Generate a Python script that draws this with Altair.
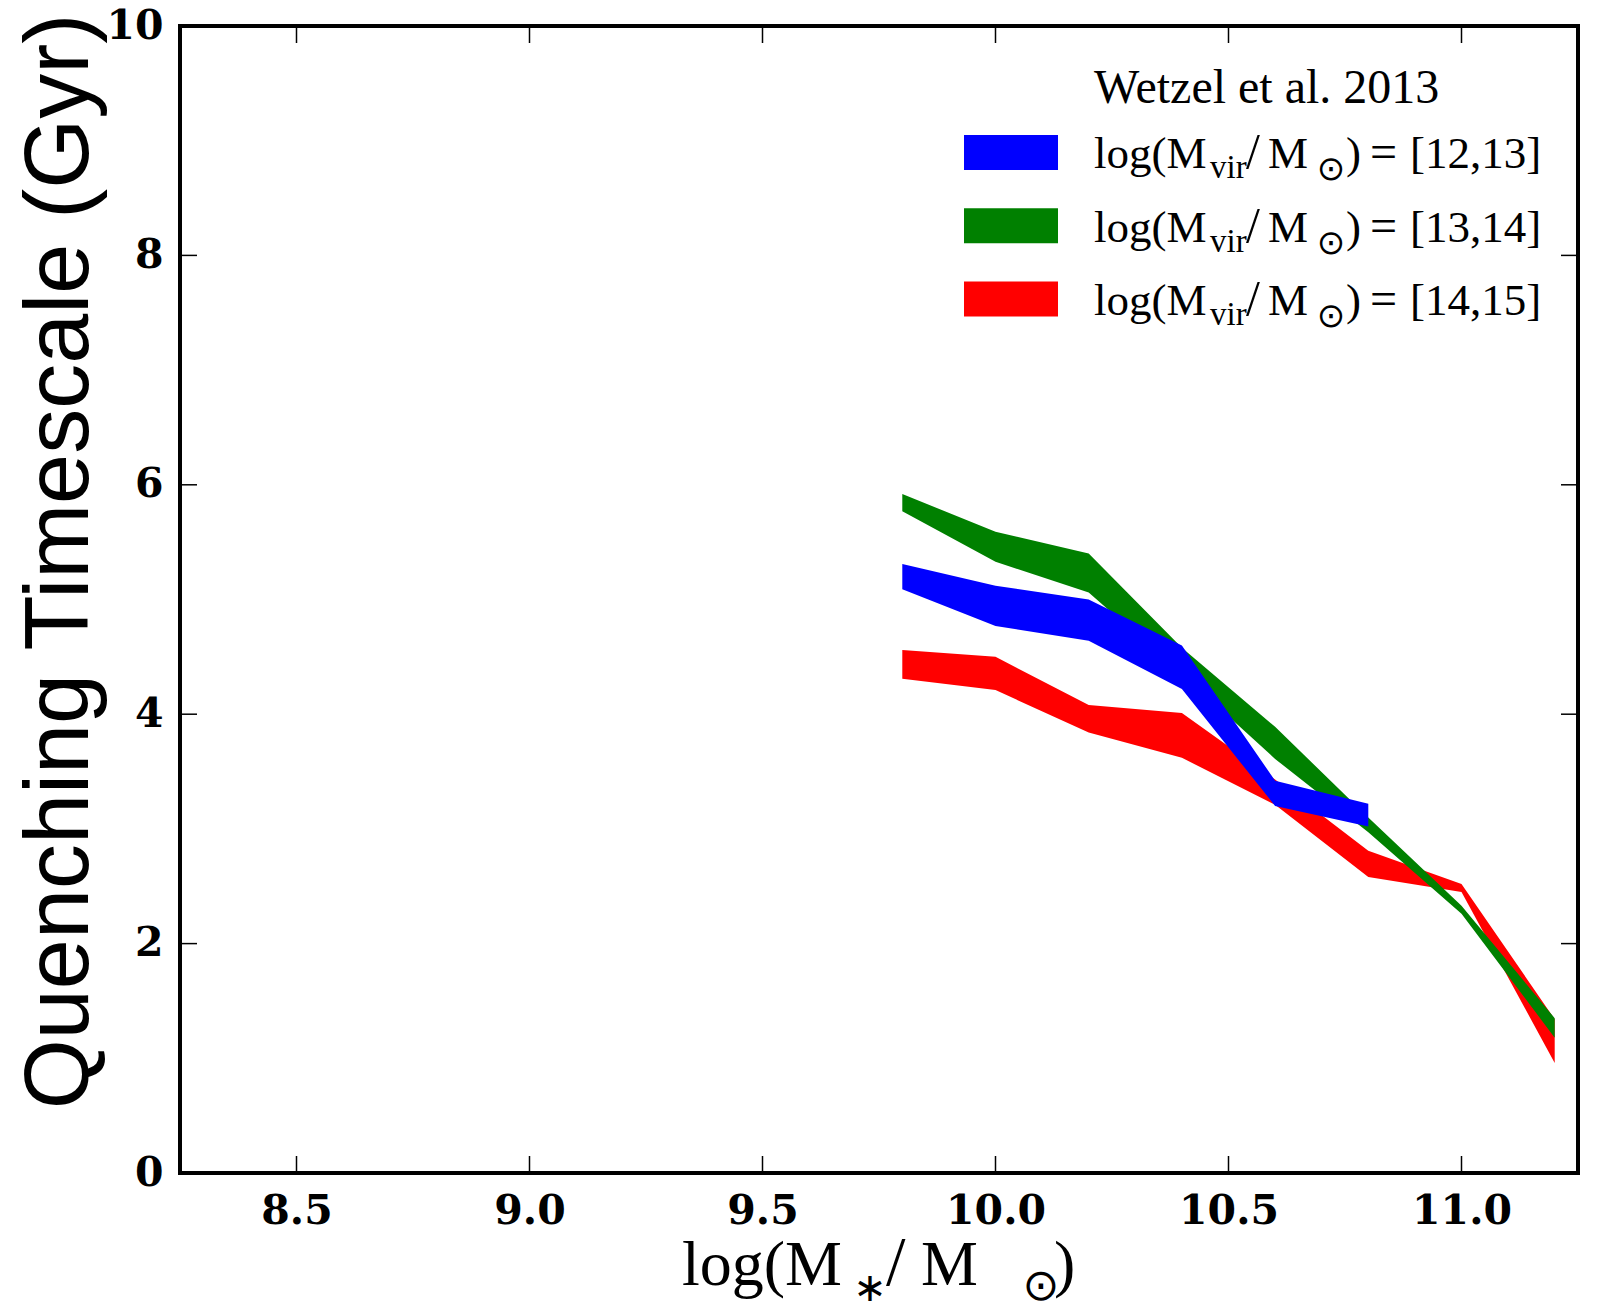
import altair as alt
import pandas as pd

# ---- data ----
xs_blue = [9.8, 10.0, 10.2, 10.4, 10.6, 10.8]
blue_lo = [5.09, 4.77, 4.64, 4.22, 3.20, 3.02]
blue_hi = [5.31, 5.12, 5.00, 4.60, 3.42, 3.22]

xs_green = [9.8, 10.0, 10.2, 10.4, 10.6, 10.8, 11.0, 11.2]
green_lo = [5.77, 5.33, 5.06, 4.35, 3.61, 2.97, 2.26, 1.18]
green_hi = [5.92, 5.59, 5.40, 4.58, 3.89, 3.10, 2.33, 1.35]

xs_red = [9.8, 10.0, 10.2, 10.4, 10.6, 10.8, 11.0, 11.2]
red_lo = [4.31, 4.21, 3.84, 3.62, 3.21, 2.58, 2.45, 0.96]
red_hi = [4.56, 4.50, 4.08, 4.01, 3.43, 2.81, 2.52, 1.34]

x_ticks = [8.5, 9.0, 9.5, 10.0, 10.5, 11.0]
y_ticks = [0, 2, 4, 6, 8, 10]

legend_title = "Wetzel et al. 2013"
legend_ranges = ["[12,13]", "[13,14]", "[14,15]"]
legend_colors = ["#0000ff", "#008000", "#ff0000"]

W, H = 1398, 1147
xscale = alt.Scale(domain=[8.25, 11.25], nice=False, zero=False)
yscale = alt.Scale(domain=[0, 10], nice=False, zero=True)

SERIF = "Liberation Serif"

XAXIS = alt.Axis(values=x_ticks, format=".1f", title=None, grid=False,
                 domain=False, ticks=False, tickSize=0, labelPadding=18,
                 labelFont="DejaVu Serif", labelFontWeight="bold",
                 labelFontSize=41, labelColor="black", labelFlush=False)
YAXIS = alt.Axis(values=y_ticks, format="d", title=None, grid=False,
                 domain=False, ticks=False, tickSize=0, labelPadding=17,
                 labelFont="DejaVu Serif", labelFontWeight="bold",
                 labelFontSize=41, labelColor="black", labelFlush=False)


def band(xs, lo, hi, color):
    df = pd.DataFrame({"x": xs, "lo": lo, "hi": hi})
    return alt.Chart(df).mark_area(color=color, opacity=1, interpolate="linear").encode(
        x=alt.X("x:Q", scale=xscale, axis=XAXIS),
        y=alt.Y("hi:Q", scale=yscale, axis=YAXIS),
        y2="lo:Q",
    )


def txt(s, x, y, size, font=SERIF, align="left", baseline="alphabetic",
        angle=0, weight="normal"):
    return alt.Chart(pd.DataFrame({"t": [s]})).mark_text(
        align=align, baseline=baseline, font=font, fontSize=size,
        angle=angle, fontWeight=weight, color="black"
    ).encode(x=alt.value(x), y=alt.value(y), text="t:N")


TL = 17
xt = pd.DataFrame({"v": x_ticks})
yt = pd.DataFrame({"v": y_ticks})
tick_bottom = alt.Chart(xt).mark_rule(color="black", strokeWidth=1.5).encode(
    x=alt.X("v:Q", scale=xscale, axis=XAXIS), y=alt.value(H), y2=alt.value(H - TL))
tick_top = alt.Chart(xt).mark_rule(color="black", strokeWidth=1.5).encode(
    x=alt.X("v:Q", scale=xscale, axis=XAXIS), y=alt.value(0), y2=alt.value(TL))
tick_left = alt.Chart(yt).mark_rule(color="black", strokeWidth=1.5).encode(
    y=alt.Y("v:Q", scale=yscale, axis=YAXIS), x=alt.value(0), x2=alt.value(TL))
tick_right = alt.Chart(yt).mark_rule(color="black", strokeWidth=1.5).encode(
    y=alt.Y("v:Q", scale=yscale, axis=YAXIS), x=alt.value(W), x2=alt.value(W - TL))

layers = [
    band(xs_red, red_lo, red_hi, "#ff0000"),
    band(xs_green, green_lo, green_hi, "#008000"),
    band(xs_blue, blue_lo, blue_hi, "#0000ff"),
    tick_bottom, tick_top, tick_left, tick_right,
]

# y-axis title
layers.append(txt("Quenching Timescale (Gyr)", -92, 535.5, 90,
                  font="Liberation Sans", align="center", angle=270))

# x-axis title log(M_*/M_sun)
xb = 1259
layers += [
    txt("log(M", 502, xb, 64),
    txt("\u2217", 690, xb + 4, 40, font="DejaVu Sans", align="center", baseline="middle"),
    txt("/", 706, xb, 70),
    txt("M", 741, xb, 64),
    txt("\u2299", 861, xb + 2, 44, font="DejaVu Sans", align="center", baseline="middle"),
    txt(")", 874, xb, 64),
]

# legend
layers.append(txt(legend_title, 914, 77, 48))
row_base = [142.3, 215.6, 289.0]
row_mid = [126.5, 199.7, 273.0]
for rng, col, b, m in zip(legend_ranges, legend_colors, row_base, row_mid):
    layers.append(
        alt.Chart(pd.DataFrame({"k": [0]})).mark_rect(color=col).encode(
            x=alt.value(784), x2=alt.value(878),
            y=alt.value(m - 17.5), y2=alt.value(m + 17.5))
    )
    layers += [
        txt("log(M", 914, b, 45),
        txt("vir", 1030, b + 10, 33),
        txt("/", 1066, b, 50),
        txt("M", 1088, b, 45),
        txt("\u2299", 1151, b + 2, 34, font="DejaVu Sans", align="center", baseline="middle"),
        txt(")", 1166, b, 45),
        txt("=", 1190, b, 48),
        txt(rng, 1230, b, 45),
    ]

chart = alt.layer(*layers).properties(
    width=W, height=H,
    autosize=alt.AutoSizeParams(type="none"),
    padding={"left": 172, "top": 18, "right": 4, "bottom": 128},
    background="white",
).configure_view(stroke="black", strokeWidth=4)

chart.save("out.html", embed_options={"renderer": "svg", "actions": False})
